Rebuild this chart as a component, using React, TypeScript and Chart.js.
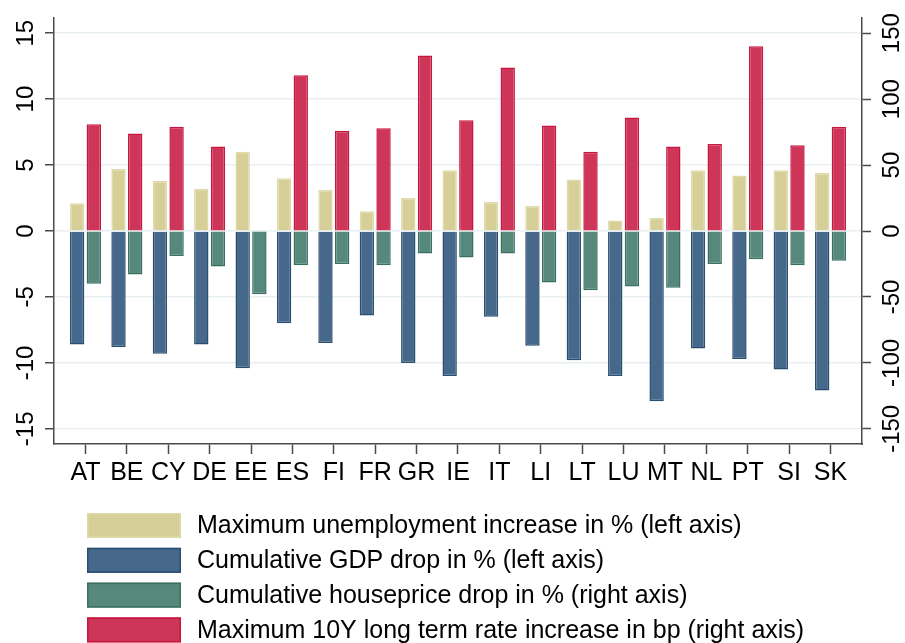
import React, { useEffect, useRef } from 'react';
import { Chart, registerables } from 'chart.js';

Chart.register(...registerables);

const categories = ['AT', 'BE', 'CY', 'DE', 'EE', 'ES', 'FI', 'FR', 'GR', 'IE', 'IT', 'LI', 'LT', 'LU', 'MT', 'NL', 'PT', 'SI', 'SK'];
const unemploymentIncrease = [2.1, 4.7, 3.8, 3.2, 6.0, 4.0, 3.1, 1.5, 2.5, 4.6, 2.2, 1.9, 3.9, 0.8, 1.0, 4.6, 4.2, 4.6, 4.4];
const gdpDrop = [-8.6, -8.8, -9.3, -8.6, -10.4, -7.0, -8.5, -6.4, -10.0, -11.0, -6.5, -8.7, -9.8, -11.0, -12.9, -8.9, -9.7, -10.5, -12.1];
const housepriceDrop = [-40, -33, -19, -27, -48, -26, -25, -26, -17, -20, -17, -39, -45, -42, -43, -25, -21.5, -26, -22.5];
const rateIncrease = [81, 74, 79, 64, null, 118, 76, 78, 133, 84, 124, 80, 60, 86, 64, 66, 140, 65, 79];
const leftTicks = [-15, -10, -5, 0, 5, 10, 15];
const rightTicks = [-150, -100, -50, 0, 50, 100, 150];
const seriesLabels = [
  'Maximum unemployment increase in % (left axis)',
  'Cumulative GDP drop in % (left axis)',
  'Cumulative houseprice drop in % (right axis)',
  'Maximum 10Y long term rate increase in bp (right axis)',
];

const FONT = '"Liberation Sans", Arial, sans-serif';
const AXIS = '#4a4a4a';

const toPoints = (arr: (number | null)[]) => arr.map((v, i) => ({ x: i, y: v }));

const rotatedTicks = {
  id: 'rotatedTicks',
  afterDraw(chart: any) {
    const ctx = chart.ctx;
    const y = chart.scales.y;
    const y2 = chart.scales.y2;
    ctx.save();
    ctx.font = `24px ${FONT}`;
    ctx.fillStyle = '#000';
    ctx.textAlign = 'center';
    ctx.textBaseline = 'middle';
    const draw = (scale: any, x: number) => {
      scale.ticks.forEach((t: any) => {
        const py = scale.getPixelForValue(t.value);
        ctx.save();
        ctx.translate(x, py);
        ctx.rotate(-Math.PI / 2);
        ctx.fillText(String(t.value), 0, 0);
        ctx.restore();
      });
    };
    draw(y, y.right - 28);
    draw(y2, y2.left + 30);
    ctx.restore();
  },
};

const customLegend = {
  id: 'customLegend',
  afterDraw(chart: any) {
    const ctx = chart.ctx;
    const x0 = 87;
    const top0 = 513;
    const pitch = 34.8;
    const bw = 94;
    const bh = 25;
    ctx.save();
    ctx.font = `25px ${FONT}`;
    ctx.textAlign = 'left';
    ctx.textBaseline = 'middle';
    chart.data.datasets.forEach((ds: any, i: number) => {
      const top = top0 + i * pitch;
      ctx.fillStyle = ds.backgroundColor;
      ctx.fillRect(x0, top, bw, bh);
      ctx.strokeStyle = ds.borderColor;
      ctx.lineWidth = 1.5;
      ctx.strokeRect(x0 + 0.75, top + 0.75, bw - 1.5, bh - 1.5);
      ctx.fillStyle = '#000';
      ctx.fillText(ds.label, x0 + bw + 16, top + bh / 2 + 1);
    });
    ctx.restore();
  },
};

export default function App() {
  const ref = useRef<HTMLCanvasElement>(null);
  useEffect(() => {
    document.body.style.margin = '0';
    const canvas = ref.current!;
    const common = { borderWidth: 1.5, borderSkipped: 'start' as const };
    const chart = new Chart(canvas, {
      type: 'bar',
      data: {
        datasets: [
          { ...common, label: seriesLabels[0], data: toPoints(unemploymentIncrease) as any, yAxisID: 'y', stack: 'L', backgroundColor: 'rgb(214,207,151)', borderColor: 'rgb(224,218,168)' },
          { ...common, label: seriesLabels[1], data: toPoints(gdpDrop) as any, yAxisID: 'y', stack: 'L', backgroundColor: 'rgb(70,104,138)', borderColor: 'rgb(42,78,112)' },
          { ...common, label: seriesLabels[2], data: toPoints(housepriceDrop) as any, yAxisID: 'y2', stack: 'R', backgroundColor: 'rgb(86,136,123)', borderColor: 'rgb(58,112,97)' },
          { ...common, label: seriesLabels[3], data: toPoints(rateIncrease) as any, yAxisID: 'y2', stack: 'R', backgroundColor: 'rgb(205,54,89)', borderColor: 'rgb(200,22,62)' },
        ],
      },
      options: {
        responsive: false,
        animation: false,
        devicePixelRatio: 1,
        layout: { padding: { top: 18, left: 0, right: 0, bottom: 0 } },
        datasets: { bar: { categoryPercentage: 0.806, barPercentage: 0.862 } },
        plugins: { legend: { display: false }, tooltip: { enabled: false } },
        scales: {
          x: {
            type: 'linear',
            offset: false,
            min: -0.76,
            max: 18.76,
            afterBuildTicks: (s: any) => { s.ticks = categories.map((_, i) => ({ value: i })); },
            afterFit: (s: any) => { s.height = 199; },
            ticks: {
              callback: (v: any) => categories[v as number] ?? '',
              font: { family: FONT, size: 25 },
              color: '#000',
              padding: 4,
              maxRotation: 0,
              minRotation: 0,
              autoSkip: false,
            },
            grid: { display: true, offset: false, drawOnChartArea: false, drawTicks: true, tickLength: 10, tickColor: AXIS, tickWidth: 1.5 },
            border: { display: true, color: AXIS, width: 1.5 },
          },
          y: {
            type: 'linear',
            position: 'left',
            min: -16.15,
            max: 16.15,
            afterBuildTicks: (s: any) => { s.ticks = leftTicks.map((v) => ({ value: v })); },
            afterFit: (s: any) => { s.width = 54; },
            ticks: { display: false },
            grid: { color: 'rgb(232,240,242)', lineWidth: 1.5, drawTicks: true, tickLength: 9, tickColor: AXIS, tickWidth: 1.5 },
            border: { display: true, color: AXIS, width: 1.5 },
          },
          y2: {
            type: 'linear',
            position: 'right',
            min: -161.5,
            max: 161.5,
            afterBuildTicks: (s: any) => { s.ticks = rightTicks.map((v) => ({ value: v })); },
            afterFit: (s: any) => { s.width = 43; },
            ticks: { display: false },
            grid: { drawOnChartArea: false, drawTicks: true, tickLength: 9, tickColor: AXIS, tickWidth: 1.5 },
            border: { display: true, color: AXIS, width: 1.5 },
          },
        },
      },
      plugins: [rotatedTicks, customLegend],
    });
    return () => chart.destroy();
  }, []);
  return (
    <div style={{ width: 905, height: 643, background: '#fff' }}>
      <canvas ref={ref} width={905} height={643} />
    </div>
  );
}
